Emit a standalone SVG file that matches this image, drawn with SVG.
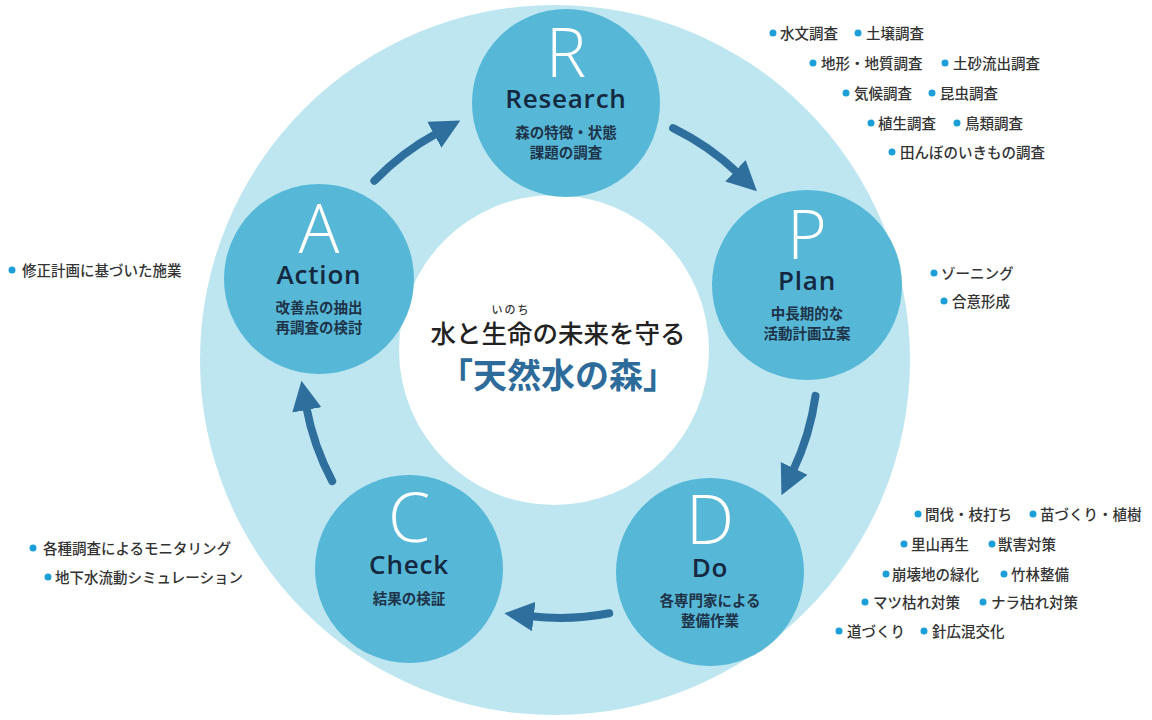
<svg xmlns="http://www.w3.org/2000/svg" width="1152" height="720" viewBox="0 0 1152 720">
<style>
.node{fill:#56b7d7}
.letter{font-family:"Open Sans","Noto Sans",sans-serif;font-weight:300;font-size:68px;fill:#ffffff;text-anchor:middle}
.title{font-family:"Open Sans","Noto Sans",sans-serif;font-weight:600;font-size:26px;fill:#142840;text-anchor:middle;letter-spacing:0.8px}
.sub{font-family:"Noto Sans CJK JP",sans-serif;font-weight:700;font-size:14.5px;fill:#1e3348;text-anchor:middle}
.lbl{font-family:"Noto Sans CJK JP",sans-serif;font-weight:500;font-size:14.5px;fill:#333333}
.dot{fill:#1c9fd8}
.arrow{fill:none;stroke:#2f6f9d;stroke-width:8;stroke-linecap:round;marker-end:url(#head)}
</style>
<defs>
<marker id="head" viewBox="0 0 10 10" refX="1" refY="5" markerWidth="3.7" markerHeight="4" orient="auto" markerUnits="strokeWidth">
<path d="M0,0 L10,5 L0,10 z" fill="#2f6f9d"/>
</marker>
</defs>
<rect width="1152" height="720" fill="#ffffff"/>
<g id="background">
<circle cx="555" cy="360" r="355" fill="#bde6f1"/>
<circle cx="554" cy="350" r="155" fill="#ffffff"/>
</g>
<g id="connectors">
<path class="arrow" d="M374.4,180.8 A258,258 0 0 1 436.9,133.3"/>
<path class="arrow" d="M673.1,128.1 A258,258 0 0 1 737.6,172.8"/>
<path class="arrow" d="M815.5,395.9 A258,258 0 0 1 792.9,471.1"/>
<path class="arrow" d="M609.2,613.3 A258,258 0 0 1 530.8,616.3"/>
<path class="arrow" d="M332.2,481.1 A258,258 0 0 1 306.3,407.0"/>
</g>
<g id="center">
<text x="511" y="314" font-family="Noto Sans CJK JP,sans-serif" font-size="11" font-weight="500" fill="#333" text-anchor="middle" letter-spacing="2">いのち</text>
<text x="558" y="343" font-family="Noto Sans CJK JP,sans-serif" font-size="25.5" font-weight="500" fill="#222" text-anchor="middle">水と生命の未来を守る</text>
<text x="558" y="388" font-family="Noto Sans CJK JP,sans-serif" font-size="34" font-weight="700" fill="#2d6c9a" text-anchor="middle">「天然水の森」</text>
</g>
<g id="node-R">
<circle class="node" cx="566" cy="103" r="94"/>
<text class="letter" x="566" y="77">R</text>
<text class="title" x="566" y="108">Research</text>
<text class="sub" x="566" y="138">森の特徴・状態</text>
<text class="sub" x="566" y="158">課題の調査</text>
</g>
<g id="node-P">
<circle class="node" cx="807" cy="285" r="95"/>
<text class="letter" x="807" y="259">P</text>
<text class="title" x="807" y="290">Plan</text>
<text class="sub" x="807" y="319">中長期的な</text>
<text class="sub" x="807" y="339">活動計画立案</text>
</g>
<g id="node-D">
<circle class="node" cx="710" cy="572" r="94"/>
<text class="letter" x="710" y="544">D</text>
<text class="title" x="710" y="577">Do</text>
<text class="sub" x="710" y="606">各専門家による</text>
<text class="sub" x="710" y="626">整備作業</text>
</g>
<g id="node-C">
<circle class="node" cx="409" cy="569" r="94"/>
<text class="letter" x="409" y="542">C</text>
<text class="title" x="409" y="574">Check</text>
<text class="sub" x="409" y="604">結果の検証</text>
</g>
<g id="node-A">
<circle class="node" cx="319" cy="279" r="95"/>
<text class="letter" x="319" y="253">A</text>
<text class="title" x="319" y="284">Action</text>
<text class="sub" x="319" y="313">改善点の抽出</text>
<text class="sub" x="319" y="333">再調査の検討</text>
</g>
<g id="labels-R">
<circle class="dot" cx="773" cy="33" r="3.5"/><text class="lbl" x="780" y="38.5">水文調査</text>
<circle class="dot" cx="858" cy="33" r="3.5"/><text class="lbl" x="866" y="38.5">土壌調査</text>
<circle class="dot" cx="813" cy="63" r="3.5"/><text class="lbl" x="821" y="68.5">地形・地質調査</text>
<circle class="dot" cx="945" cy="63" r="3.5"/><text class="lbl" x="953" y="68.5">土砂流出調査</text>
<circle class="dot" cx="846" cy="93" r="3.5"/><text class="lbl" x="854" y="98.5">気候調査</text>
<circle class="dot" cx="932" cy="93" r="3.5"/><text class="lbl" x="940" y="98.5">昆虫調査</text>
<circle class="dot" cx="871" cy="123" r="3.5"/><text class="lbl" x="878" y="128.5">植生調査</text>
<circle class="dot" cx="957" cy="123" r="3.5"/><text class="lbl" x="965" y="128.5">鳥類調査</text>
<circle class="dot" cx="892" cy="152" r="3.5"/><text class="lbl" x="900" y="157.5">田んぼのいきもの調査</text>
</g>
<g id="labels-P">
<circle class="dot" cx="934" cy="273" r="3.5"/><text class="lbl" x="941" y="278.5">ゾーニング</text>
<circle class="dot" cx="944" cy="301" r="3.5"/><text class="lbl" x="952" y="306.5">合意形成</text>
</g>
<g id="labels-D">
<circle class="dot" cx="918" cy="514" r="3.5"/><text class="lbl" x="925" y="519.5">間伐・枝打ち</text>
<circle class="dot" cx="1033" cy="514" r="3.5"/><text class="lbl" x="1040" y="519.5">苗づくり・植樹</text>
<circle class="dot" cx="904" cy="544" r="3.5"/><text class="lbl" x="911" y="549.5">里山再生</text>
<circle class="dot" cx="992" cy="544" r="3.5"/><text class="lbl" x="998" y="549.5">獣害対策</text>
<circle class="dot" cx="886" cy="574" r="3.5"/><text class="lbl" x="892" y="579.5">崩壊地の緑化</text>
<circle class="dot" cx="1004" cy="574" r="3.5"/><text class="lbl" x="1011" y="579.5">竹林整備</text>
<circle class="dot" cx="865" cy="602" r="3.5"/><text class="lbl" x="873" y="607.5">マツ枯れ対策</text>
<circle class="dot" cx="983" cy="602" r="3.5"/><text class="lbl" x="991" y="607.5">ナラ枯れ対策</text>
<circle class="dot" cx="839" cy="631" r="3.5"/><text class="lbl" x="847" y="636.5">道づくり</text>
<circle class="dot" cx="924" cy="631" r="3.5"/><text class="lbl" x="932" y="636.5">針広混交化</text>
</g>
<g id="labels-C">
<circle class="dot" cx="33" cy="548" r="3.5"/><text class="lbl" x="43" y="553.5">各種調査によるモニタリング</text>
<circle class="dot" cx="48" cy="577" r="3.5"/><text class="lbl" x="55" y="582.5">地下水流動シミュレーション</text>
</g>
<g id="labels-A">
<circle class="dot" cx="12" cy="270" r="3.5"/><text class="lbl" x="22" y="275.5">修正計画に基づいた施業</text>
</g>
</svg>
